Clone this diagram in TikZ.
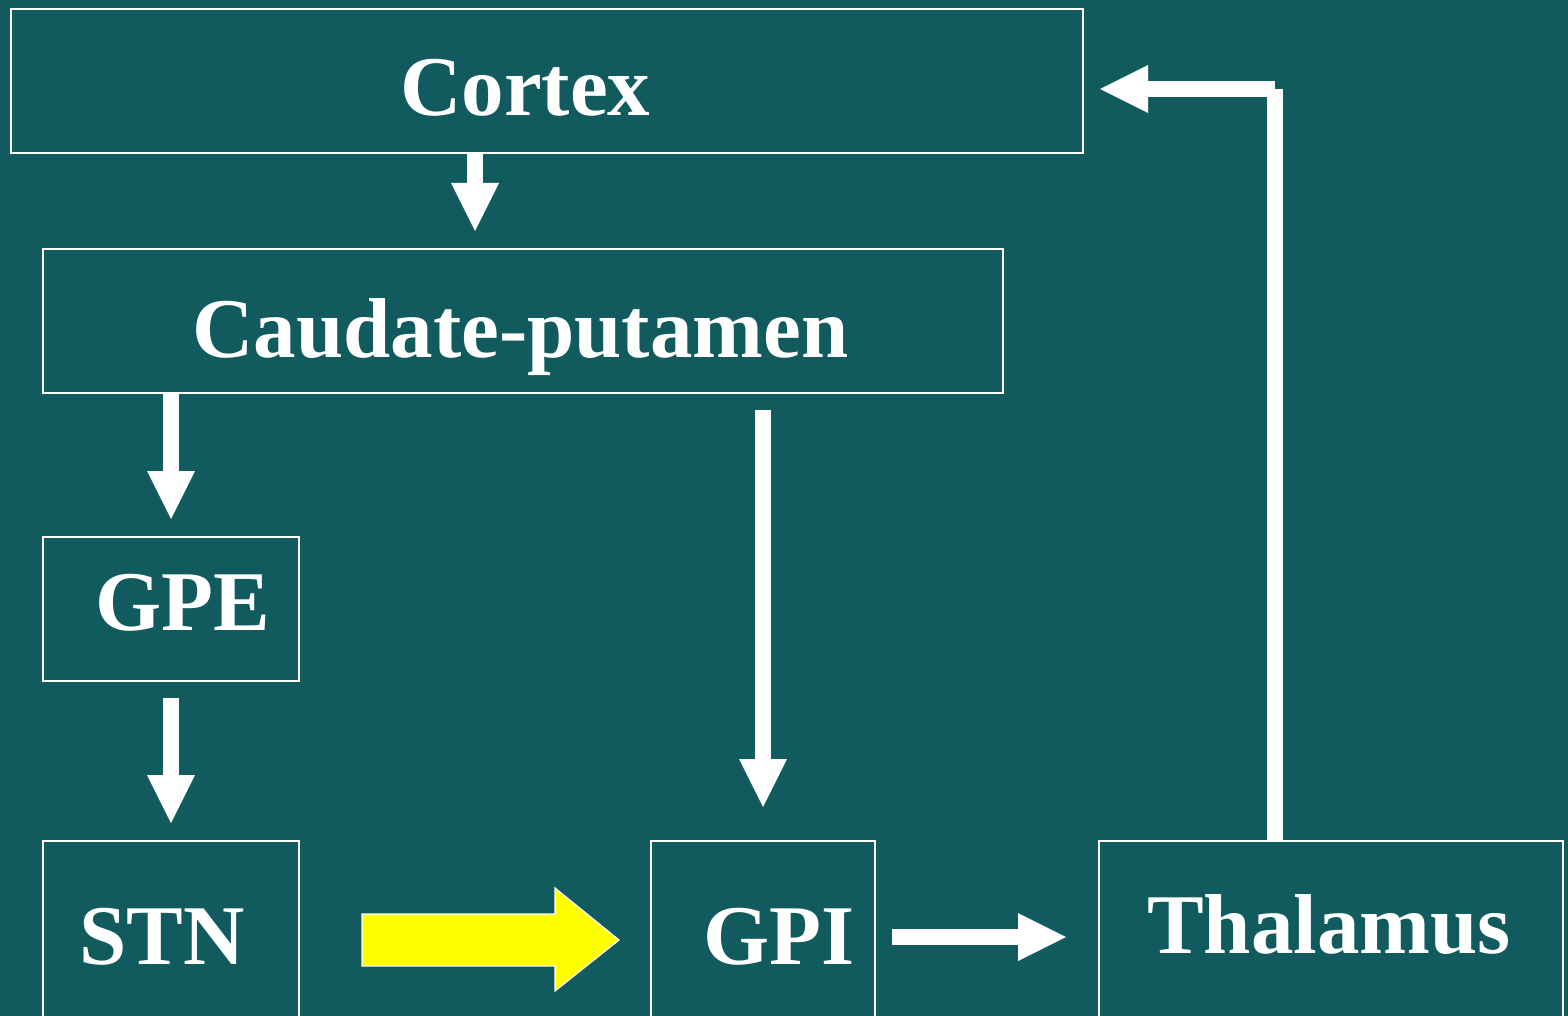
\documentclass[tikz,border=0pt]{standalone}
\usepackage{fontspec}
\setmainfont{Liberation Serif}
\usetikzlibrary{arrows.meta,calc}
\definecolor{bgteal}{RGB}{17,91,94}
\definecolor{yarrow}{RGB}{255,255,0}
\begin{document}
\begin{tikzpicture}[x=1pt,y=-1pt,
  box/.style={draw=white,line width=2pt,inner sep=0pt,rectangle},
  lbl/.style={text=white,inner sep=0pt,anchor=base west,font=\bfseries\fontsize{85}{85}\selectfont},
  shaft/.style={draw=white,line width=16pt,line cap=butt},
  arr/.style={shaft,-{Triangle[length=48pt,width=48pt,line width=0pt]}}]
\useasboundingbox (0,0) rectangle (1568,1016);
\fill[bgteal] (0,0) rectangle (1568,1016);
\clip (0,0) rectangle (1568,1016);
% boxes
\node[box,minimum width=1072pt,minimum height=144pt] (cortex) at (547,81) {};
\node[box,minimum width=960pt,minimum height=144pt] (caudate) at (523,321) {};
\node[box,minimum width=256pt,minimum height=144pt] (gpe) at (171,609) {};
\node[box,minimum width=256pt,minimum height=200pt] (stn) at (171,941) {};
\node[box,minimum width=224pt,minimum height=200pt] (gpi) at (763,941) {};
\node[box,minimum width=464pt,minimum height=200pt] (thal) at (1331,941) {};
% labels
\node[lbl] (cortexT) at (400,116) {Cortex};
\node[lbl] (caudateT) at (192,357) {Caudate-putamen};
\node[lbl] (gpeT) at (95,630) {GPE};
\node[lbl] (stnT) at (79,964) {STN};
\node[lbl] (gpiT) at (703,964) {GPI};
\node[lbl] (thalT) at (1147,953) {Thalamus};
% connectors
\draw[arr] ($(cortex.south)+(-72,0)$) -- ($(caudate.north)+(-48,-17)$);
\draw[arr] (caudate.south -| gpe.north) -- ($(gpe.north)+(0,-17)$);
\draw[arr] ($(caudate.south -| gpi.north)+(0,16)$) -- ($(gpi.north)+(0,-33)$);
\draw[arr] ($(gpe.south)+(0,16)$) -- ($(stn.north)+(0,-17)$);
\draw[arr] ($(gpi.east)+(16,-4)$) -- ($(thal.west)+(-32,-4)$);
\coordinate (bend) at (1275,89);
\draw[shaft] ($(thal.north)+(-56,0)$) -- (bend);
\draw[arr] (bend) -- ($(cortex.east)+(16,8)$);
% yellow block arrow
\draw[draw=white,line width=1.2pt,fill=yarrow,line join=miter]
  (362,914) -- (555,914) -- (555,888) -- (619,940) -- (555,991) -- (555,966) -- (362,966) -- cycle;
\end{tikzpicture}
\end{document}
